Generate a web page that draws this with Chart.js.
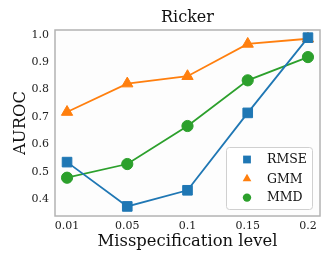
<!DOCTYPE html>
<html><head><meta charset="utf-8">
<script src="https://cdn.jsdelivr.net/npm/chart.js@4"></script>
<style>html,body{margin:0;padding:0;background:#fff}#wrap{width:332px;height:266px}</style>
</head><body><div id="wrap"><canvas id="c" width="332" height="266"></canvas></div>
<script>
const categories = ['0.01', '0.05', '0.1', '0.15', '0.2'];
const rmse = [0.535, 0.373, 0.432, 0.715, 0.990];
const gmm  = [0.718, 0.822, 0.849, 0.967, 0.986];
const mmd  = [0.478, 0.528, 0.667, 0.834, 0.919];
const yTicks = [0.4, 0.5, 0.6, 0.7, 0.8, 0.9, 1.0];
const titleText = 'Ricker';
const xTitle = 'Misspecification level';
const yTitle = 'AUROC';

const SERIF = "'DejaVu Serif', serif";
const toPts = arr => arr.map((v, i) => ({x: i, y: v}));

const frame = {
  id: 'frame',
  beforeDraw(chart) {
    const {ctx, chartArea: a} = chart;
    ctx.save();
    ctx.fillStyle = '#fdfdfd';
    ctx.fillRect(a.left, a.top, a.right - a.left, a.bottom - a.top);
    ctx.restore();
  },
  beforeDatasetsDraw(chart) {
    const {ctx, chartArea: a} = chart;
    ctx.save();
    ctx.strokeStyle = '#b3b3b3';
    ctx.lineWidth = 1.5;
    ctx.strokeRect(a.left, a.top, a.right - a.left, a.bottom - a.top);
    ctx.restore();
  },
  afterDraw(chart) {
    const {ctx, chartArea: a} = chart;
    ctx.save();
    ctx.fillStyle = '#111';
    ctx.font = '16px ' + SERIF;
    ctx.textAlign = 'center';
    ctx.textBaseline = 'middle';
    ctx.fillText(titleText, (a.left + a.right) / 2, 18);
    const bx = 226.5, by = 147.5, bw = 86, bh = 62;
    ctx.beginPath();
    ctx.roundRect(bx, by, bw, bh, 3);
    ctx.fillStyle = 'rgba(255,255,255,0.8)';
    ctx.fill();
    ctx.strokeStyle = '#d0d0d0';
    ctx.lineWidth = 1;
    ctx.stroke();
    const rows = [159.5, 178.8, 197.6];
    const radii = [5.5, 5, 4.2];
    chart.data.datasets.forEach((ds, i) => {
      const r = radii[i], cx = 247, cy = rows[i];
      ctx.fillStyle = ds.backgroundColor;
      ctx.beginPath();
      if (ds.pointStyle === 'rect') { const s = Math.SQRT1_2 * r; ctx.rect(cx - s, cy - s, 2*s, 2*s); }
      else if (ds.pointStyle === 'triangle') { ctx.moveTo(cx, cy - r); ctx.lineTo(cx + r*0.866, cy + r/2); ctx.lineTo(cx - r*0.866, cy + r/2); ctx.closePath(); }
      else { ctx.arc(cx, cy, r, 0, Math.PI*2); }
      ctx.fill();
      ctx.fillStyle = '#111';
      ctx.font = '12.5px ' + SERIF;
      ctx.textAlign = 'left';
      ctx.textBaseline = 'middle';
      ctx.fillText(ds.label, 267, cy + 0.5);
    });
    ctx.restore();
  }
};

const mk = (label, data, color, style, r) => ({
  label, data: toPts(data), borderColor: color, backgroundColor: color,
  pointStyle: style, pointRadius: r, pointHoverRadius: r, pointBorderWidth: 1,
  pointBackgroundColor: color, pointBorderColor: color, borderWidth: 1.8, tension: 0
});

new Chart(document.getElementById('c'), {
  type: 'line',
  data: {
    datasets: [
      mk('RMSE', rmse, '#1f77b4', 'rect', 6.8),
      mk('GMM', gmm, '#ff7f0e', 'triangle', 6.5),
      mk('MMD', mmd, '#2ca02c', 'circle', 5.6)
    ]
  },
  plugins: [frame],
  options: {
    responsive: false, animation: false, devicePixelRatio: 1,
    layout: {padding: {top: 30, right: 12, left: 0, bottom: 0}},
    plugins: {legend: {display: false}, title: {display: false}, tooltip: {enabled: false}},
    scales: {
      x: {
        type: 'linear', min: -0.2, max: 4.2,
        afterFit(s) { s.height = 50; },
        afterBuildTicks(s) { s.ticks = categories.map((_, i) => ({value: i})); },
        ticks: {callback: v => categories[v], padding: 4, color: '#222', font: {family: SERIF, size: 11}, maxRotation: 0, autoSkip: false},
        grid: {display: false, drawTicks: false},
        border: {display: false},
        title: {display: true, text: xTitle, color: '#111', font: {family: SERIF, size: 16.4}, padding: {top: 0, bottom: 14}}
      },
      y: {
        min: 0.338, max: 1.018,
        afterFit(s) { s.width = 55; },
        afterBuildTicks(s) { s.ticks = yTicks.map(v => ({value: v})); },
        ticks: {callback: v => v.toFixed(1), padding: 6, color: '#222', font: {family: SERIF, size: 11}},
        grid: {display: false, drawTicks: false},
        border: {display: false},
        title: {display: true, text: yTitle, color: '#111', font: {family: SERIF, size: 16.4}, padding: {top: 11, bottom: 0}}
      }
    }
  }
});
</script></body></html>
